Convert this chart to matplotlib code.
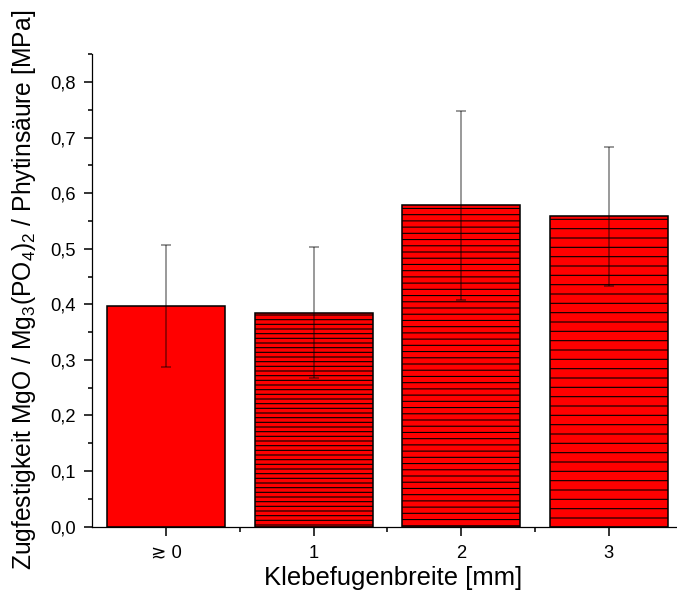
import matplotlib
matplotlib.use("Agg")
import matplotlib.pyplot as plt
from matplotlib.ticker import MultipleLocator, FixedLocator, FuncFormatter

plt.rcParams['font.family'] = ['Liberation Sans', 'DejaVu Sans']
plt.rcParams['mathtext.fontset'] = 'custom'
plt.rcParams['mathtext.rm'] = 'Liberation Sans'
plt.rcParams['mathtext.it'] = 'Liberation Sans'
plt.rcParams['mathtext.default'] = 'regular'
plt.rcParams['hatch.linewidth'] = 0.7

categories = ["≳ 0", "1", "2", "3"]
values = [0.397, 0.385, 0.578, 0.558]
errors = [0.110, 0.118, 0.170, 0.125]
hatches = ["", "----", "---", "--"]

DPI = 112
fig = plt.figure(figsize=(677 / DPI, 602 / DPI), dpi=DPI)
ax = fig.add_axes([0.1363, 0.1251, 0.8715, 0.785])

pos = list(range(len(categories)))
bars = ax.bar(pos, values, width=0.8, color="#ff0000", edgecolor="black",
              linewidth=1.0, zorder=2)
for b, h in zip(bars, hatches):
    b.set_hatch(h)

ax.errorbar(pos, values, yerr=errors, fmt="none", ecolor=(0, 0, 0, 0.42),
            elinewidth=1.2, capsize=3.2, capthick=1.2, zorder=3)

ax.set_xlim(-0.5, 3.5)
ax.set_ylim(0, 0.85)

ax.spines['top'].set_visible(False)
ax.spines['right'].set_visible(False)

ax.set_xticks(pos)
ax.set_xticklabels(categories)
ax.xaxis.set_minor_locator(FixedLocator([p + 0.5 for p in pos]))
ax.yaxis.set_major_locator(MultipleLocator(0.1))
ax.yaxis.set_minor_locator(MultipleLocator(0.05))
ax.yaxis.set_major_formatter(FuncFormatter(lambda v, _: f"{v:.1f}".replace(".", ",")))

ax.tick_params(axis='both', which='major', direction='out', labelsize=11.8, width=1.0)
ax.tick_params(axis='x', which='major', length=5.5, pad=6)
ax.tick_params(axis='x', which='minor', length=3, width=1.0)
ax.tick_params(axis='y', which='major', length=5.3, pad=5.5)
ax.tick_params(axis='y', which='minor', length=2.5, width=1.0)

ax.set_xlabel("Klebefugenbreite [mm]", fontsize=16.5)
ax.xaxis.set_label_coords(0.51, -0.083)
ax.set_ylabel("Zugfestigkeit MgO / Mg$_3$(PO$_4$)$_2$ / Phytinsäure [MPa]",
              fontsize=15.8)
ax.yaxis.set_label_coords(-0.092, 0.5)

fig.savefig("out.png", dpi=DPI)
